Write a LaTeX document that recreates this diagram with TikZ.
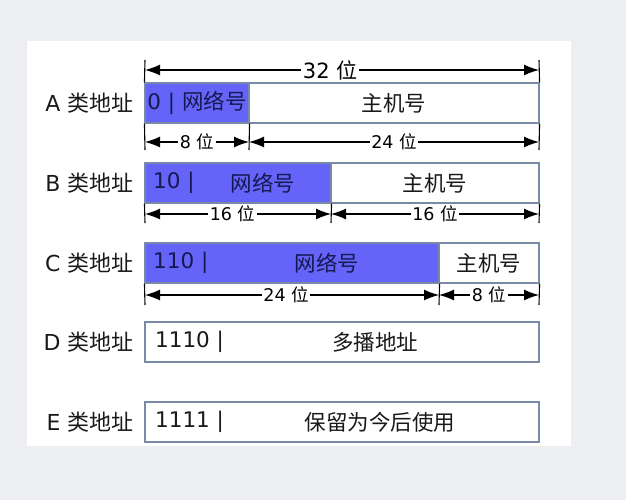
\documentclass[tikz,border=0pt]{standalone}
\usepackage{fontspec}
\setmainfont{DejaVu Sans}
\newfontfamily\cjk{Noto Sans CJK SC}
\usetikzlibrary{arrows.meta}
\definecolor{pagegray}{RGB}{236,238,242}
\definecolor{netblue}{RGB}{100,100,248}
\definecolor{netink}{RGB}{22,24,80}
\definecolor{boxedge}{RGB}{120,138,165}
\begin{document}
\begin{tikzpicture}[
        x=1pt, y=-1pt,
        field/.style={rectangle, draw=boxedge, line width=1.1pt, inner sep=0pt, minimum height=40pt, font=\fontsize{21.5}{24}\selectfont, text=black!90},
        netfield/.style={field, fill=netblue, text=netink},
        hostfield/.style={field, fill=white},
        fieldtext/.style={font=\fontsize{21.5}{24}\selectfont, text=black!90, inner sep=0pt},
        bits/.style={fieldtext, anchor=west},
        classlabel/.style={anchor=east, font=\fontsize{22}{24}\selectfont, text=black!90},
        span/.style={{Latex[length=15pt,width=11pt]}-{Latex[length=15pt,width=11pt]}, line width=1.3pt},
        spanlabel/.style={fill=white, inner sep=1.5pt, font=\fontsize{17.5}{20}\selectfont, midway},
        tick/.style={line width=1.1pt}
    ]
        % Page and panel
        \useasboundingbox (0,0) rectangle (626,500);
        \fill[pagegray] (0,0) rectangle (626,500);
        \fill[white] (27,41) rectangle (571,446);

        % Class A
        \node[classlabel] (alabel) at (137,103) {A {\cjk 类地址}};
        \node[netfield, minimum width=104pt] (anet) at (197,103) {0 | {\cjk 网络号}};
        \node[hostfield, minimum width=290pt] (ahost) at (394,103) {\cjk 主机号};

        % Class B
        \node[classlabel] (blabel) at (137,183) {B {\cjk 类地址}};
        \node[netfield, minimum width=186pt] (bnet) at (238,183) {};
        \node[hostfield, minimum width=208pt] (bhost) at (435,183) {\cjk 主机号};
        \node[bits, text=netink] (bbits) at (153,183) {10 |};
        \node[fieldtext, text=netink] (bname) at (263,183) {\cjk 网络号};

        % Class C
        \node[classlabel] (clabel) at (137,263) {C {\cjk 类地址}};
        \node[netfield, minimum width=294pt] (cnet) at (292,263) {};
        \node[hostfield, minimum width=100pt] (chost) at (489,263) {\cjk 主机号};
        \node[bits, text=netink] (cbits) at (153,263) {110 |};
        \node[fieldtext, text=netink] (cname) at (327,263) {\cjk 网络号};

        % Class D
        \node[classlabel] (dlabel) at (137,342) {D {\cjk 类地址}};
        \node[hostfield, minimum width=394pt] (dbox) at (342,342) {};
        \node[bits] (dbits) at (155,342) {1110 |};
        \node[fieldtext] (dname) at (375,342) {\cjk 多播地址};

        % Class E
        \node[classlabel] (elabel) at (137,422) {E {\cjk 类地址}};
        \node[hostfield, minimum width=394pt] (ebox) at (342,422) {};
        \node[bits] (ebits) at (155,422) {1111 |};
        \node[fieldtext] (ename) at (380,422) {\cjk 保留为今后使用};

        % Tick ends
        \coordinate (topl) at (145,60);
        \coordinate (topr) at (539,60);
        \coordinate (aendl) at (145,150);
        \coordinate (aendm) at (249,150);
        \coordinate (aendr) at (539,150);
        \coordinate (bendl) at (145,223);
        \coordinate (bendm) at (331,223);
        \coordinate (bendr) at (539,223);
        \coordinate (cendl) at (145,305);
        \coordinate (cendm) at (439,305);
        \coordinate (cendr) at (539,305);

        % Ticks
        \draw[tick] (topl) -- (anet.north west);
        \draw[tick] (topr) -- (ahost.north east);
        \draw[tick] (anet.south west) -- (aendl);
        \draw[tick] (anet.south east) -- (aendm);
        \draw[tick] (ahost.south east) -- (aendr);
        \draw[tick] (bnet.south west) -- (bendl);
        \draw[tick] (bnet.south east) -- (bendm);
        \draw[tick] (bhost.south east) -- (bendr);
        \draw[tick] (cnet.south west) -- (cendl);
        \draw[tick] (cnet.south east) -- (cendm);
        \draw[tick] (chost.south east) -- (cendr);

        % Width arrows
        \draw[span] ([yshift=-10pt]topl) -- ([yshift=-10pt]topr) node[spanlabel, pos=0.47, font=\fontsize{21}{24}\selectfont] {32 {\cjk 位}};
        \draw[span] ([yshift=8pt]aendl) -- ([yshift=8pt]aendm) node[spanlabel] {8 {\cjk 位}};
        \draw[span] ([yshift=8pt]aendm) -- ([yshift=8pt]aendr) node[spanlabel] {24 {\cjk 位}};
        \draw[span] ([yshift=9pt]bendl) -- ([yshift=9pt]bendm) node[spanlabel, pos=0.47] {16 {\cjk 位}};
        \draw[span] ([yshift=9pt]bendm) -- ([yshift=9pt]bendr) node[spanlabel] {16 {\cjk 位}};
        \draw[span] ([yshift=10pt]cendl) -- ([yshift=10pt]cendm) node[spanlabel, pos=0.48] {24 {\cjk 位}};
        \draw[span] ([yshift=10pt]cendm) -- ([yshift=10pt]cendr) node[spanlabel] {8 {\cjk 位}};

    \end{tikzpicture}
\end{document}
